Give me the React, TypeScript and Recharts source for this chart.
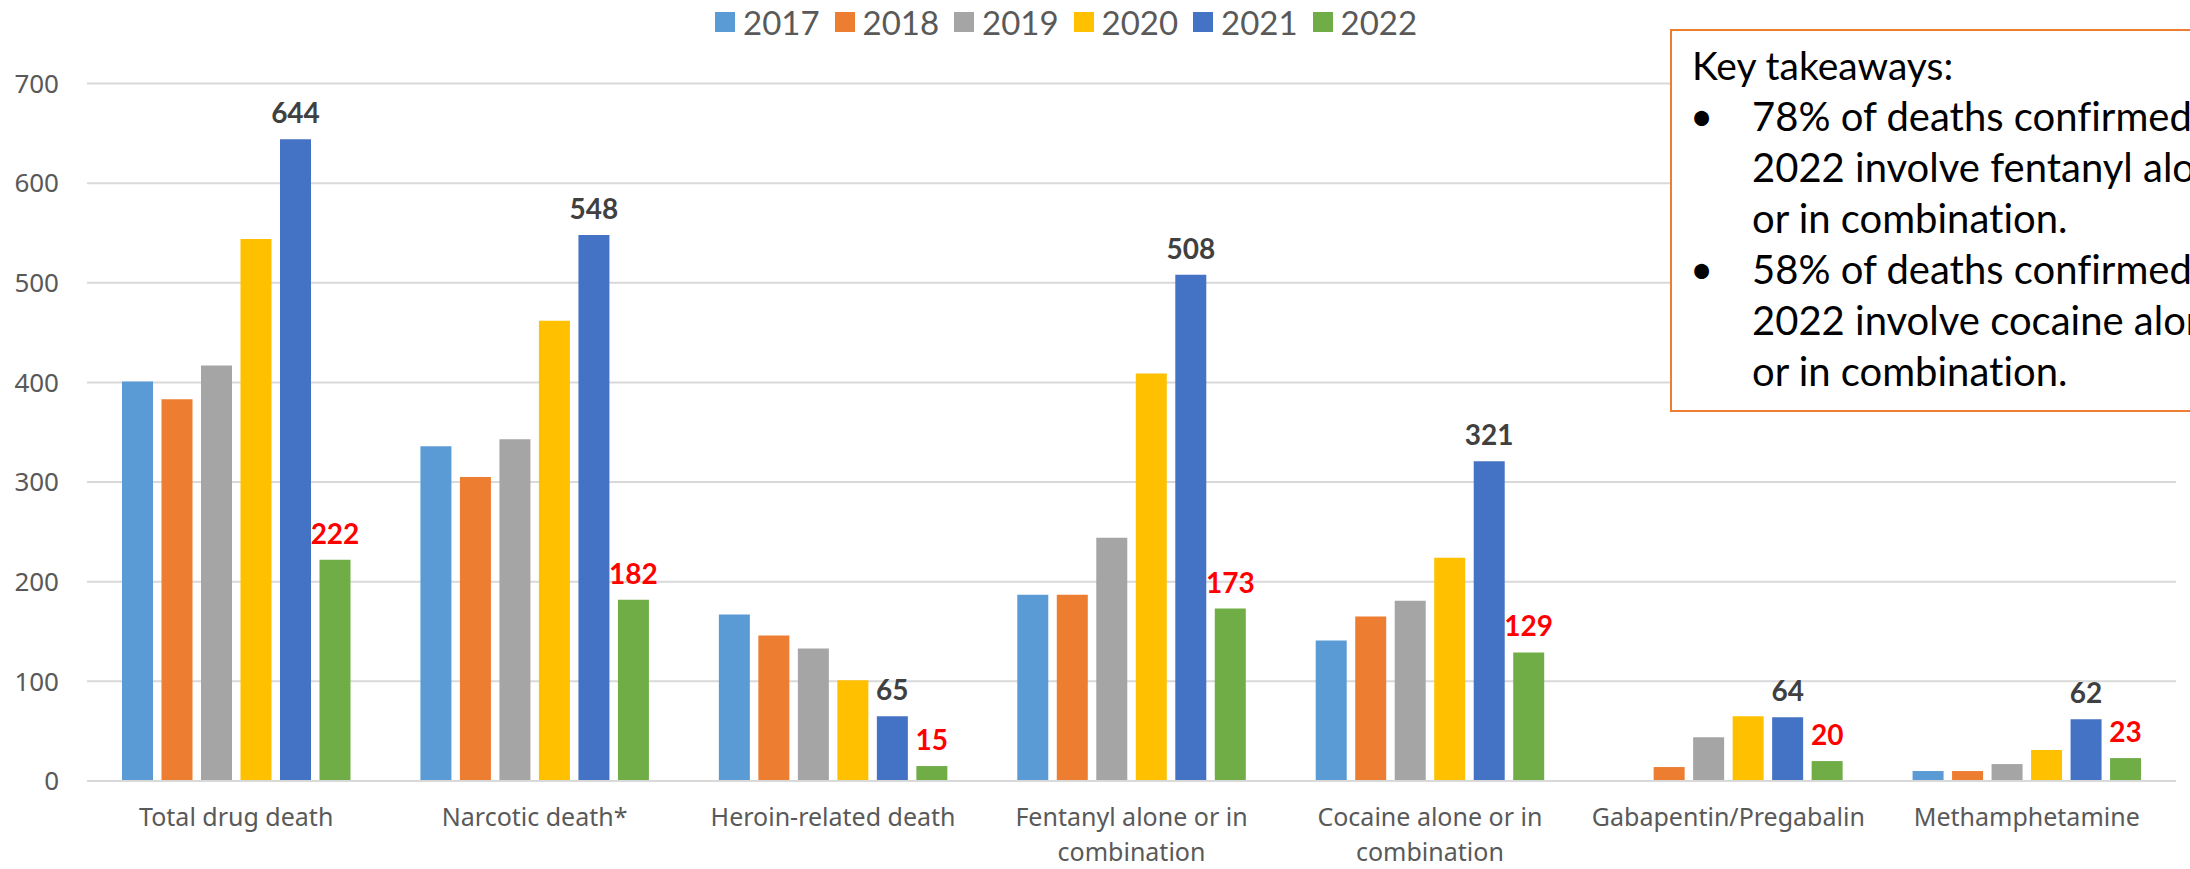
import React from 'react';
import { BarChart, Bar, XAxis, YAxis, CartesianGrid, Legend, LabelList } from 'recharts';

const categories = [
  'Total drug death',
  'Narcotic death*',
  'Heroin-related death',
  'Fentanyl alone or in combination',
  'Cocaine alone or in combination',
  'Gabapentin/Pregabalin',
  'Methamphetamine',
];
const years = ['2017', '2018', '2019', '2020', '2021', '2022'];
const v2017 = [401, 336, 167, 187, 141, null, 10];
const v2018 = [383, 305, 146, 187, 165, 14, 10];
const v2019 = [417, 343, 133, 244, 181, 44, 17];
const v2020 = [544, 462, 101, 409, 224, 65, 31];
const v2021 = [644, 548, 65, 508, 321, 64, 62];
const v2022 = [222, 182, 15, 173, 129, 20, 23];
const yTicks = [0, 100, 200, 300, 400, 500, 600, 700];
const colors = ['#5B9BD5', '#ED7D31', '#A5A5A5', '#FFC000', '#4472C4', '#70AD47'];
const takeawayTitle = 'Key takeaways:';
const takeaways = [
  ['78% of deaths confirmed in', '2022 involve fentanyl alone', 'or in combination.'],
  ['58% of deaths confirmed in', '2022 involve cocaine alone', 'or in combination.'],
];

const series = [v2017, v2018, v2019, v2020, v2021, v2022];
const data = categories.map((name, i) => {
  const row: Record<string, any> = { name };
  years.forEach((y, k) => {
    row['y' + y] = series[k][i];
  });
  return row;
});

const wrap = (s: string, max: number) => {
  const words = s.split(' ');
  const lines: string[] = [];
  let cur = '';
  words.forEach((w) => {
    const t = cur ? cur + ' ' + w : w;
    if (t.length > max && cur) {
      lines.push(cur);
      cur = w;
    } else cur = t;
  });
  if (cur) lines.push(cur);
  return lines;
};

const XTick = (props: any) => {
  const { x, y, payload } = props;
  const lines = wrap(String(payload.value), 21);
  return (
    <text x={x} y={y} textAnchor="middle" fill="#595959" fontFamily="'Noto Sans', sans-serif" fontSize={25}>
      {lines.map((l, i) => (
        <tspan key={i} x={x} dy={i === 0 ? 37 : 35}>
          {l}
        </tspan>
      ))}
    </text>
  );
};

const renderLegend = () => (
  <div style={{ height: 44, display: 'flex', alignItems: 'center', paddingLeft: 715 }}>
    {years.map((y, i) => (
      <div key={y} style={{ display: 'flex', alignItems: 'center', width: 119.5 }}>
        <span style={{ width: 20, height: 20, background: colors[i], display: 'inline-block' }} />
        <span style={{ marginLeft: 8, fontFamily: 'Lato, sans-serif', fontSize: 33, color: '#595959', lineHeight: '44px' }}>
          {y}
        </span>
      </div>
    ))}
  </div>
);

export default function App() {
  return (
    <div style={{ position: 'absolute', left: 0, top: 0, width: 2190, height: 869, overflow: 'hidden', background: '#fff' }}>
      <BarChart
        width={2190}
        height={869}
        data={data}
        margin={{ top: 39.5, right: 14, bottom: 0, left: 0 }}
        barSize={31}
        barGap={8.5}
      >
        <CartesianGrid vertical={false} stroke="#D9D9D9" strokeWidth={2} />
        <XAxis
          dataKey="name"
          height={88}
          tickLine={false}
          axisLine={{ stroke: '#D9D9D9', strokeWidth: 2 }}
          tick={<XTick />}
          interval={0}
        />
        <YAxis
          width={87}
          domain={[0, 700]}
          ticks={yTicks}
          axisLine={false}
          tickLine={false}
          tickMargin={22}
          tick={{ fill: '#595959', fontSize: 26, fontFamily: "'Noto Sans', sans-serif" }}
        />
        <Legend verticalAlign="top" content={renderLegend} wrapperStyle={{ top: 0, left: 0, width: 2190 }} />
        {years.map((y, i) => (
          <Bar key={y} dataKey={'y' + y} fill={colors[i]} isAnimationActive={false}>
            {y === '2021' && (
              <LabelList
                dataKey={'y' + y}
                position="top"
                offset={16}
                fill="#404040"
                fontFamily="Lato, sans-serif"
                fontWeight="bold"
                fontSize={28}
              />
            )}
            {y === '2022' && (
              <LabelList
                dataKey={'y' + y}
                position="top"
                offset={16}
                fill="#FF0000"
                fontFamily="Lato, sans-serif"
                fontWeight="bold"
                fontSize={28}
              />
            )}
          </Bar>
        ))}
      </BarChart>
      <div
        style={{
          position: 'absolute',
          left: 1670,
          top: 29,
          width: 640,
          height: 383,
          boxSizing: 'border-box',
          border: '2px solid #ED7D31',
          background: '#fff',
          fontFamily: 'Lato, sans-serif',
          fontVariantLigatures: 'none',
          fontSize: 39,
          color: '#000',
          lineHeight: '51px',
          paddingTop: 9,
          paddingLeft: 20,
          whiteSpace: 'nowrap',
        }}
      >
        <div>{takeawayTitle}</div>
        {takeaways.map((t, i) => (
          <div key={i} style={{ position: 'relative', paddingLeft: 60, fontSize: 40 }}>
            <span style={{ position: 'absolute', left: -2 }}>•</span>
            {t.map((l, j) => (
              <div key={j}>{l}</div>
            ))}
          </div>
        ))}
      </div>
    </div>
  );
}
